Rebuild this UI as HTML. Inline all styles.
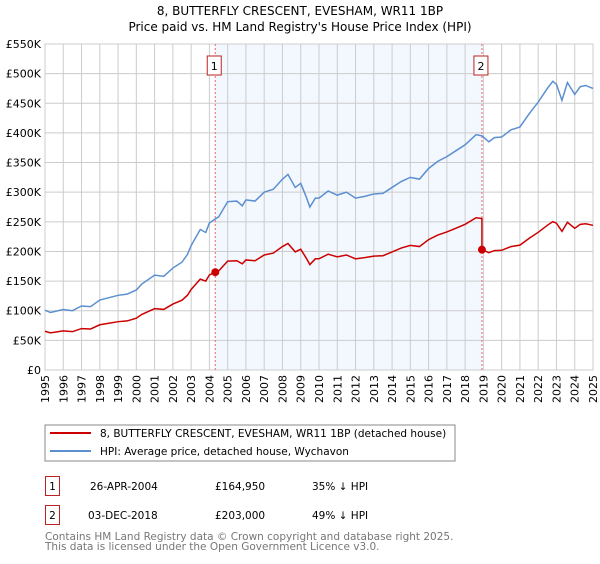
<!DOCTYPE html>
<html><head><meta charset="utf-8"><style>
body{margin:0;background:#fff;font-family:"DejaVu Sans","Liberation Sans",sans-serif;}
svg text{font-family:"DejaVu Sans","Liberation Sans",sans-serif;}
</style></head><body>
<svg id="chart" width="600" height="560" xmlns="http://www.w3.org/2000/svg">
<text x="300" y="15" text-anchor="middle" font-size="12" fill="#000">8, BUTTERFLY CRESCENT, EVESHAM, WR11 1BP</text>
<text x="300" y="31" text-anchor="middle" font-size="12" fill="#000">Price paid vs. HM Land Registry's House Price Index (HPI)</text>
<g id="plot"></g>
<rect x="45" y="425" width="410" height="36" fill="#fff" stroke="#888"/>
<line x1="50" y1="433" x2="91" y2="433" stroke="#cc0000" stroke-width="2"/>
<text x="100" y="437" font-size="10.5">8, BUTTERFLY CRESCENT, EVESHAM, WR11 1BP (detached house)</text>
<line x1="50" y1="451" x2="91" y2="451" stroke="#5b8fd0" stroke-width="2"/>
<text x="100" y="455" font-size="10.5">HPI: Average price, detached house, Wychavon</text>
<g>
<rect x="45.5" y="476.5" width="14" height="19" fill="none" stroke="#b22"/>
<text x="52.5" y="490" font-size="10.5" text-anchor="middle">1</text>
<text x="90" y="490" font-size="10.5">26-APR-2004</text>
<text x="215" y="490" font-size="10.5">£164,950</text>
<text x="312" y="490" font-size="10.5">35% ↓ HPI</text>
</g>
<g>
<rect x="45.5" y="505.5" width="14" height="19" fill="none" stroke="#b22"/>
<text x="52.5" y="519" font-size="10.5" text-anchor="middle">2</text>
<text x="88" y="519" font-size="10.5">03-DEC-2018</text>
<text x="215" y="519" font-size="10.5">£203,000</text>
<text x="312" y="519" font-size="10.5">49% ↓ HPI</text>
</g>
<text x="45" y="540" font-size="10.5" fill="#777">Contains HM Land Registry data © Crown copyright and database right 2025.</text>
<text x="45" y="550" font-size="10.5" fill="#777">This data is licensed under the Open Government Licence v3.0.</text>
</svg>
<script>
const hpiYears=[1995,1995.3,1996,1996.5,1997,1997.5,1998,1998.5,1999,1999.5,2000,2000.3,2001,2001.5,2002,2002.5,2002.8,2003,2003.5,2003.8,2004,2004.32,2004.5,2005,2005.5,2005.8,2006,2006.5,2007,2007.5,2008,2008.3,2008.7,2009,2009.3,2009.5,2009.8,2010,2010.5,2011,2011.5,2012,2012.5,2013,2013.5,2014,2014.5,2015,2015.5,2016,2016.5,2017,2017.5,2018,2018.6,2018.92,2019.3,2019.6,2020,2020.5,2021,2021.5,2022,2022.5,2022.8,2023,2023.3,2023.6,2024,2024.3,2024.6,2025];
const hpiValues=[101000,97000,102000,100000,108000,107000,118000,122000,126000,128000,135000,145000,160000,158000,172000,182000,195000,210000,237000,232000,248000,255000,258000,284000,285000,277000,287000,285000,300000,305000,322000,330000,308000,315000,292000,275000,290000,290000,302000,295000,300000,290000,293000,297000,298000,308000,318000,325000,322000,340000,352000,360000,370000,380000,397000,395000,385000,392000,393000,405000,410000,432000,452000,475000,487000,482000,455000,485000,465000,478000,480000,475000];
const saleYears=[2004.32,2018.92];
const salePrices=[164950,203000];
const saleLabels=["1","2"];
const yTicks=[0,50000,100000,150000,200000,250000,300000,350000,400000,450000,500000,550000];
const yTickLabels=["£0","£50K","£100K","£150K","£200K","£250K","£300K","£350K","£400K","£450K","£500K","£550K"];
const xTicks=[1995,1996,1997,1998,1999,2000,2001,2002,2003,2004,2005,2006,2007,2008,2009,2010,2011,2012,2013,2014,2015,2016,2017,2018,2019,2020,2021,2022,2023,2024,2025];

const L=45,R=593,T=44,B=370,X0=1995,X1=2025,YMAX=550000;
const xs=v=>L+(v-X0)/(X1-X0)*(R-L);
const ys=v=>B-v/YMAX*(B-T);
const NS="http://www.w3.org/2000/svg";
const g=document.getElementById('plot');
function mk(tag,attrs){const e=document.createElementNS(NS,tag);for(const k in attrs)e.setAttribute(k,attrs[k]);g.appendChild(e);return e;}
function hpiAt(t){for(let i=0;i<hpiYears.length-1;i++){if(t>=hpiYears[i]&&t<=hpiYears[i+1]){const f=(t-hpiYears[i])/(hpiYears[i+1]-hpiYears[i]);return hpiValues[i]+f*(hpiValues[i+1]-hpiValues[i]);}}return hpiValues[hpiValues.length-1];}

const shade=mk('rect',{x:xs(saleYears[0]),y:T,width:xs(saleYears[1])-xs(saleYears[0]),height:B-T,fill:'#eef3fd',opacity:'0.7'});


xTicks.forEach(t=>{const l=mk('line',{x1:xs(t),x2:xs(t),y1:T,y2:B,stroke:'#ccc','stroke-width':1});


const tx=mk('text',{x:0,y:0,'font-size':11,'text-anchor':'end',transform:`translate(${xs(t)+4},${B+5}) rotate(-90)`});tx.textContent=t;

});
yTicks.forEach((t,i)=>{const l=mk('line',{x1:L,x2:R,y1:ys(t),y2:ys(t),stroke:'#ccc','stroke-width':1});


const tx=mk('text',{x:L-4,y:ys(t)+4,'font-size':11,'text-anchor':'end'});tx.textContent=yTickLabels[i];

});
const frame=mk('rect',{x:L,y:T,width:R-L,height:B-T,fill:'none',stroke:'#ccc'});



saleYears.forEach((s,i)=>{const l=mk('line',{x1:xs(s),x2:xs(s),y1:T,y2:B,stroke:'#e66','stroke-width':1,'stroke-dasharray':'2,2'});


const bx=mk('rect',{x:xs(s)-8,y:T+12,width:14,height:19,fill:'#fff',stroke:'#b22'});


const tx=mk('text',{x:xs(s)-1,y:T+26,'font-size':11,'text-anchor':'middle'});tx.textContent=saleLabels[i];

});

const hp=mk('polyline',{points:hpiYears.map((y,i)=>xs(y)+','+ys(hpiValues[i])).join(' '),fill:'none',stroke:'#5b8fd0','stroke-width':1.5});



const pts=[];
const r1=salePrices[0]/hpiAt(saleYears[0]),r2=salePrices[1]/hpiAt(saleYears[1]);
hpiYears.forEach((y,i)=>{let v;if(y<saleYears[1])v=hpiValues[i]*r1;else v=hpiValues[i]*r2;
if(y===saleYears[1]){pts.push(xs(y)+','+ys(hpiValues[i]*r1));}
pts.push(xs(y)+','+ys(v));});
const pp=mk('polyline',{points:pts.join(' '),fill:'none',stroke:'#cc0000','stroke-width':1.5});


saleYears.forEach((s,i)=>{const c=mk('circle',{cx:xs(s),cy:ys(salePrices[i]),r:4,fill:'#cc0000'});

});
</script>
</body></html>
